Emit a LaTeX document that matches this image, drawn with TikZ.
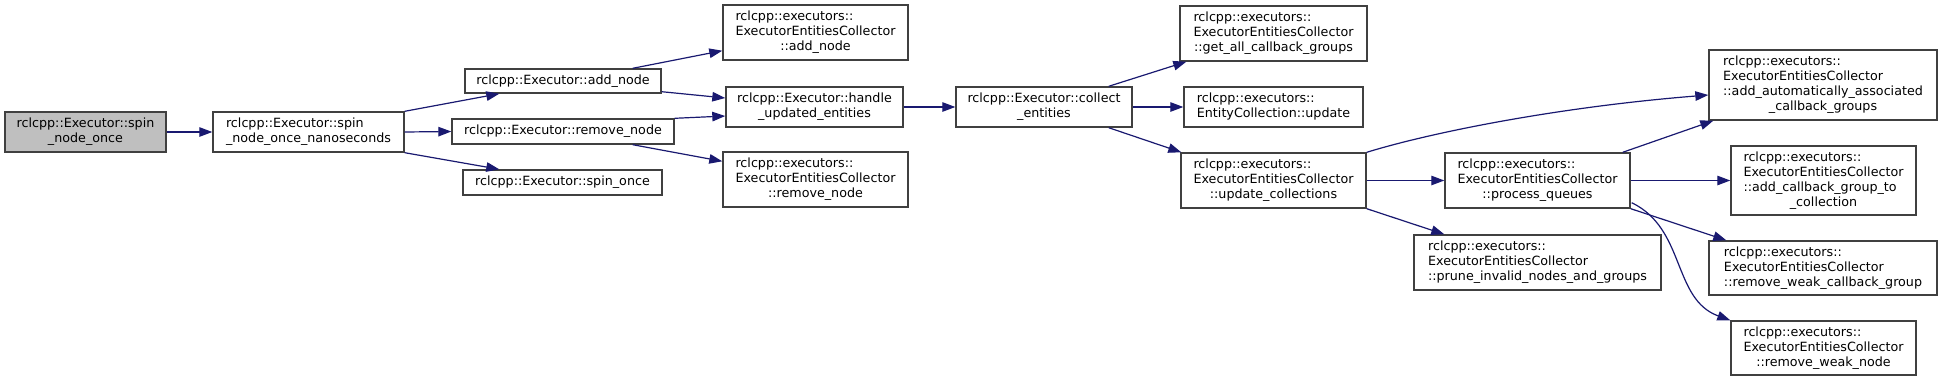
\documentclass[tikz,border=0pt]{standalone}
\usepackage{fontspec}
\setmainfont{DejaVu Sans}
\usetikzlibrary{arrows.meta,calc}
\definecolor{edgec}{HTML}{191970}
\definecolor{boxc}{HTML}{404040}
\definecolor{hl}{HTML}{BFBFBF}
\newcommand\lbl[1]{\begin{tabular}{@{}l@{}}#1\end{tabular}}
\newcommand\lc[1]{\multicolumn{1}{@{}c@{}}{#1}}
\begin{document}
\begin{tikzpicture}[x=1pt,y=-1pt,
 box/.style={draw=boxc,line width=1.4pt,fill=white,inner sep=0pt,font=\fontsize{12.7}{15}\selectfont},
 edge/.style={draw=edgec,line width=1.2pt,-{Triangle[length=13pt,width=9.5pt]}}]
\useasboundingbox (0,0) rectangle (1943,381);

\node[box,fill=hl,minimum width=161pt,minimum height=40pt] (a) at (85.5,132) {\lbl{rclcpp::Executor::spin\\\lc{\_node\_once}}};
\node[box,minimum width=191pt,minimum height=40pt] (b) at (308.5,132) {\lbl{rclcpp::Executor::spin\\\lc{\_node\_once\_nanoseconds}}};
\node[box,minimum width=196pt,minimum height=24pt] (c) at (563,81) {\lbl{rclcpp::Executor::add\_node}};
\node[box,minimum width=222pt,minimum height=25pt] (d) at (563,131.5) {\lbl{rclcpp::Executor::remove\_node}};
\node[box,minimum width=199pt,minimum height=25pt] (e) at (562.5,182.5) {\lbl{rclcpp::Executor::spin\_once}};
\node[box,minimum width=185pt,minimum height=55pt] (f) at (815.5,32.5) {\lbl{rclcpp::executors::\\ExecutorEntitiesCollector\\\lc{::add\_node}}};
\node[box,minimum width=177pt,minimum height=40pt] (g) at (814.5,107) {\lbl{rclcpp::Executor::handle\\\lc{\_updated\_entities}}};
\node[box,minimum width=185pt,minimum height=55pt] (h) at (815.5,179.5) {\lbl{rclcpp::executors::\\ExecutorEntitiesCollector\\\lc{::remove\_node}}};
\node[box,minimum width=176pt,minimum height=40pt] (i) at (1044,107) {\lbl{rclcpp::Executor::collect\\\lc{\_entities}}};
\node[box,minimum width=187pt,minimum height=55pt] (j) at (1273.5,33.5) {\lbl{rclcpp::executors::\\ExecutorEntitiesCollector\\\lc{::get\_all\_callback\_groups}}};
\node[box,minimum width=179pt,minimum height=40pt] (k) at (1273.5,107) {\lbl{rclcpp::executors::\\\lc{EntityCollection::update}}};
\node[box,minimum width=185pt,minimum height=55pt] (l) at (1273.5,180.5) {\lbl{rclcpp::executors::\\ExecutorEntitiesCollector\\\lc{::update\_collections}}};
\node[box,minimum width=185pt,minimum height=55pt] (m) at (1537.5,180.5) {\lbl{rclcpp::executors::\\ExecutorEntitiesCollector\\\lc{::process\_queues}}};
\node[box,minimum width=247pt,minimum height=55pt] (n) at (1537.5,262.5) {\lbl{rclcpp::executors::\\ExecutorEntitiesCollector\\\lc{::prune\_invalid\_nodes\_and\_groups}}};
\node[box,minimum width=228pt,minimum height=70pt] (o) at (1823,85) {\lbl{rclcpp::executors::\\ExecutorEntitiesCollector\\::add\_automatically\_associated\\\lc{\_callback\_groups}}};
\node[box,minimum width=185pt,minimum height=69pt] (p) at (1823.5,180.5) {\lbl{rclcpp::executors::\\ExecutorEntitiesCollector\\::add\_callback\_group\_to\\\lc{\_collection}}};
\node[box,minimum width=228pt,minimum height=54pt] (q) at (1823,268) {\lbl{rclcpp::executors::\\ExecutorEntitiesCollector\\\lc{::remove\_weak\_callback\_group}}};
\node[box,minimum width=185pt,minimum height=54pt] (r) at (1823.5,348) {\lbl{rclcpp::executors::\\ExecutorEntitiesCollector\\\lc{::remove\_weak\_node}}};

\draw[edge] (a.east) -- (b.west);
\draw[edge] (b.north east) -- ($(c.south west)+(35,0)$);
\draw[edge] (b.east) -- (d.west);
\draw[edge] (b.south east) -- ($(e.north west)+(37,0)$);
\draw[edge] ($(c.north east)+(-29,0)$) -- ($(f.south west)+(0,-10)$);
\draw[edge] ($(c.south east)+(0,-2)$) -- ($(g.west)+(0,-9)$);
\draw[edge] (d.north east) -- ($(g.west)+(0,9)$);
\draw[edge] ($(d.south east)+(-42,0)$) -- ($(h.north west)+(0,10)$);
\draw[edge] (g.east) -- (i.west);
\draw[edge] ($(i.north east)+(-24,0)$) -- ($(j.south west)+(7,0)$);
\draw[edge] (i.east) -- (k.west);
\draw[edge] ($(i.south east)+(-24,0)$) -- ($(l.north west)+(1,0)$);
\draw[edge] (l.north east) .. controls ($(l.north east)+(65,-20)$) and ($(o.west)+(-150,22)$) .. ($(o.west)+(0,10)$);
\draw[edge] (l.east) -- (m.west);
\draw[edge] (l.south east) -- ($(n.north west)+(31,0)$);
\draw[edge] ($(m.north east)+(-8,0)$) -- ($(o.south west)+(5,0)$);
\draw[edge] (m.east) -- (p.west);
\draw[edge] (m.south east) -- ($(q.north west)+(18,0)$);
\draw[edge] ($(m.south east)+(1,-6)$) .. controls ($(m.south east)+(55,20)$) and ($(r.north west)+(-58,-21)$) .. (r.north west);
\end{tikzpicture}
\end{document}
